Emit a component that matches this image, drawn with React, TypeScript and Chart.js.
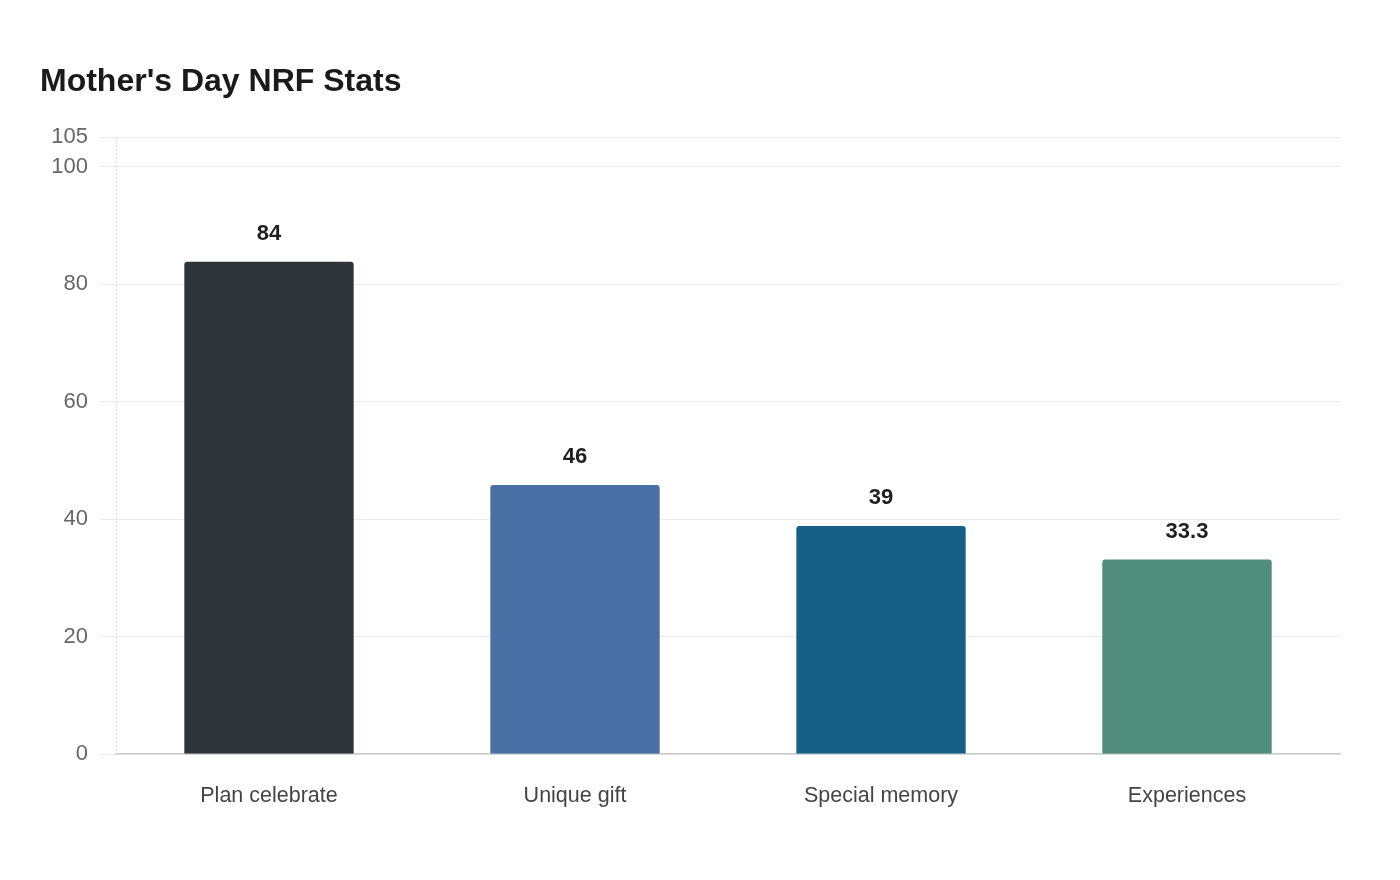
import { useEffect, useRef } from "react";
import { Chart, registerables } from "chart.js";

Chart.register(...registerables);

// ─── Data ─────────────────────────────────────────────────────────────────────
const categories = ["Plan celebrate", "Unique gift", "Special memory", "Experiences"];
const values = [84, 46, 39, 33.3];
const barColors = ["#2E3538", "#4A6FA5", "#166088", "#4F8C7A"];

const FONT = "'Liberation Sans', Arial, sans-serif";

// value labels above each bar
const valueLabels = {
  id: "valueLabels",
  afterDatasetsDraw(chart: any) {
    const { ctx } = chart;
    const meta = chart.getDatasetMeta(0);
    ctx.save();
    ctx.font = `bold 22px ${FONT}`;
    ctx.fillStyle = "#1F1F1F";
    ctx.textAlign = "center";
    ctx.textBaseline = "middle";
    meta.data.forEach((bar: any, i: number) => {
      ctx.fillText(String(values[i]), bar.x, bar.y - 27);
    });
    ctx.restore();
  },
};

// dotted y axis line
const dottedYAxis = {
  id: "dottedYAxis",
  beforeDatasetsDraw(chart: any) {
    const { ctx, chartArea } = chart;
    ctx.save();
    ctx.strokeStyle = "#D5D5D5";
    ctx.lineWidth = 1;
    ctx.setLineDash([2, 2]);
    ctx.beginPath();
    ctx.moveTo(chartArea.left + 0.5, chartArea.top);
    ctx.lineTo(chartArea.left + 0.5, chartArea.bottom);
    ctx.stroke();
    ctx.restore();
  },
};

// ─── Component ────────────────────────────────────────────────────────────────
export default function App() {
  const canvasRef = useRef<HTMLCanvasElement | null>(null);
  const chartRef = useRef<any>(null);

  useEffect(() => {
    if (!canvasRef.current) return;
    if (chartRef.current) chartRef.current.destroy();

    chartRef.current = new Chart(canvasRef.current, {
      type: "bar",
      data: {
        labels: categories,
        datasets: [
          {
            data: values,
            backgroundColor: barColors,
            borderColor: "rgba(255,255,255,0.35)",
            borderWidth: 1,
            borderRadius: 4,
            barPercentage: 0.7,
            categoryPercentage: 0.8,
          },
        ],
      },
      options: {
        responsive: true,
        maintainAspectRatio: false,
        animation: false,
        layout: { padding: { top: 63, left: 40, right: 60, bottom: 50 } },
        plugins: {
          legend: { display: false },
          tooltip: { enabled: false },
          title: {
            display: true,
            text: "Mother's Day NRF Stats",
            align: "start",
            color: "#1A1A1A",
            font: { family: FONT, size: 32, weight: "bold" },
            padding: { top: 0, bottom: 36 },
          },
        },
        scales: {
          x: {
            grid: { display: false },
            border: { color: "#CCCCCC", width: 1.5 },
            ticks: {
              color: "#444444",
              padding: 21,
              font: { family: FONT, size: 21.5 },
            },
          },
          y: {
            min: 0,
            max: 105,
            grid: { color: "#EBEBEB", tickLength: 16 },
            border: { display: false },
            ticks: {
              stepSize: 20,
              color: "#666666",
              padding: 12,
              font: { family: FONT, size: 22 },
            },
            afterFit: (axis: any) => {
              axis.width = 76;
            },
          },
        },
      },
      plugins: [valueLabels, dottedYAxis],
    });

    return () => {
      if (chartRef.current) chartRef.current.destroy();
    };
  }, []);

  return (
    <>
      <style>{`body { margin: 0; background: #FFFFFF; }`}</style>
      <div style={{ position: "relative", width: 1400, height: 880, background: "#FFFFFF" }}>
        <canvas ref={canvasRef} />
      </div>
    </>
  );
}
